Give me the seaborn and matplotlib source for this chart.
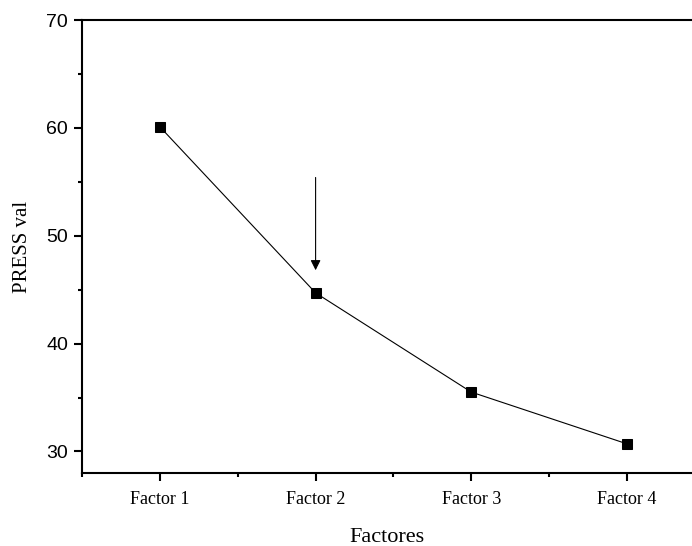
import matplotlib
matplotlib.use("Agg")
import matplotlib.pyplot as plt
import seaborn as sns
import pandas as pd
from matplotlib.ticker import MultipleLocator

categories = ["Factor 1", "Factor 2", "Factor 3", "Factor 4"]
positions = [1, 2, 3, 4]
press_val = [60.1, 44.7, 35.5, 30.7]

df = pd.DataFrame({"pos": positions, "press": press_val})

sns.set_style("ticks")
plt.rcParams["font.family"] = ["Liberation Sans", "DejaVu Sans"]
plt.rcParams["text.color"] = "black"
plt.rcParams["axes.labelcolor"] = "black"
plt.rcParams["xtick.color"] = "black"
plt.rcParams["ytick.color"] = "black"
plt.rcParams["axes.edgecolor"] = "black"
serif = ["Liberation Serif", "DejaVu Serif"]

fig = plt.figure(figsize=(6.92, 5.46), dpi=100)
ax = fig.add_axes([82/692, 73/546, 1 - 82/692, 453/546])

sns.lineplot(data=df, x="pos", y="press", ax=ax, color="black", linewidth=0.8,
             marker="s", markersize=7.5, markeredgecolor="black",
             markerfacecolor="black")

ax.set_xlim(0.5, 4.417)
ax.set_ylim(28, 70)
ax.set_xticks(positions)
ax.set_xticklabels(categories, family=serif, fontsize=13)
ax.xaxis.set_minor_locator(MultipleLocator(0.5))
ax.yaxis.set_major_locator(MultipleLocator(10))
ax.yaxis.set_minor_locator(MultipleLocator(5))
ax.tick_params(axis="both", colors="black", labelcolor="black")
ax.tick_params(axis="y", which="major", labelsize=14, length=6, width=1.5, direction="out", pad=4)
ax.tick_params(axis="y", which="minor", length=3, width=1.5, direction="out")
ax.tick_params(axis="x", which="major", length=6, width=1.5, direction="out", pad=7)
ax.tick_params(axis="x", which="minor", length=3, width=1.5, direction="out")

for s in ["left", "bottom", "top"]:
    ax.spines[s].set_linewidth(1.5)
    ax.spines[s].set_color("black")
ax.spines["right"].set_visible(False)

ax.set_xlabel("Factores", family=serif, fontsize=16, labelpad=14, color="black")
ax.set_ylabel("PRESS val", family=serif, fontsize=15, labelpad=10, color="black")

ax.annotate("", xy=(2, 46.8), xytext=(2, 55.4),
            arrowprops=dict(arrowstyle="-|>", color="black", lw=0.8,
                            mutation_scale=15, shrinkA=0, shrinkB=0))

fig.savefig("out.png", dpi=100)
